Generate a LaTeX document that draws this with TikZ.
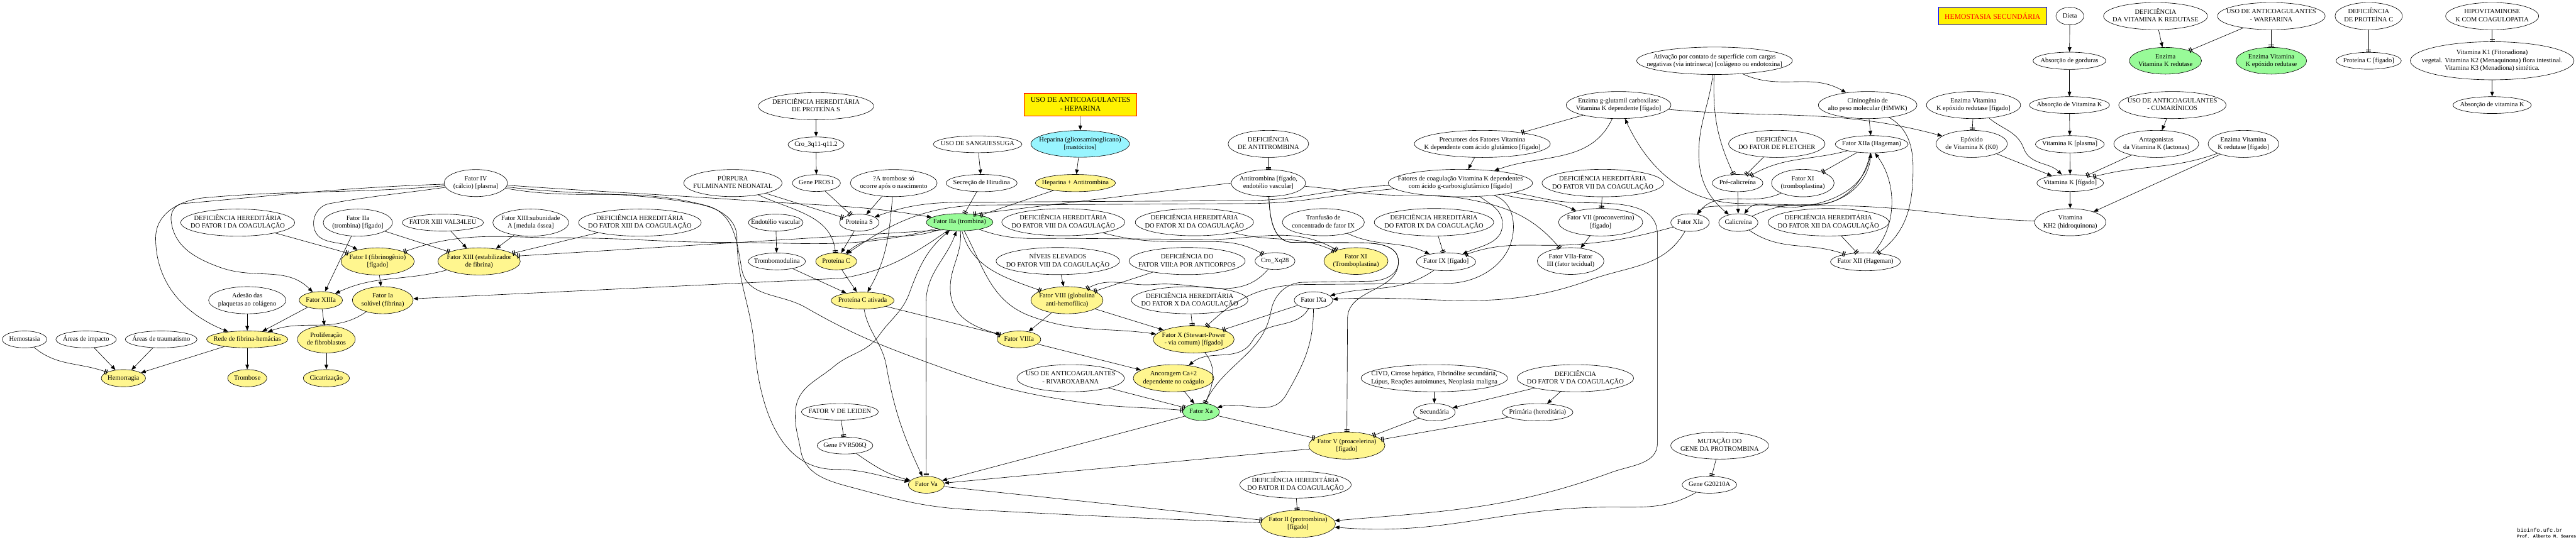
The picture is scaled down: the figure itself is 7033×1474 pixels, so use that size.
\documentclass[tikz,border=0pt]{standalone}
\usepackage{fontspec}
\setmainfont{Liberation Serif}
\newfontfamily\wmfont{Liberation Mono}
\usetikzlibrary{arrows.meta,shapes.geometric}
\definecolor{yfill}{HTML}{FFF68F}
\definecolor{gfill}{HTML}{98FB98}
\definecolor{cfill}{HTML}{98F5FF}
\newcommand{\nfont}{\fontsize{18}{21}\selectfont}
\newcommand{\bxfont}{\fontsize{20}{25}\selectfont}
\newcommand{\nlab}[1]{\makebox[0pt]{\begin{tabular}{@{}c@{}}#1\end{tabular}}}
\newcommand{\mknode}[7]{\node[#6, minimum width=#4pt, minimum height=#5pt] (#1) at (#2,-#3) {\nlab{#7}};}
\tikzset{
  nd/.style={ellipse, draw=black, line width=1.1pt, inner sep=0pt, font=\nfont},
  wh/.style={nd, fill=white},
  ye/.style={nd, fill=yfill},
  gr/.style={nd, fill=gfill},
  cy/.style={nd, fill=cfill},
  ed/.style={line width=1.1pt},
  arr/.style={ed, -{Triangle[length=13pt,width=10pt]}},
  inh/.style={ed, -{Bar[width=14pt,line width=2.2pt,sep=2.5pt]Bar[width=14pt,line width=2.2pt]}},
  bia/.style={ed, {Bar[width=14pt,line width=2.2pt,sep=2.5pt]Bar[width=14pt,line width=2.2pt]}-{Triangle[length=13pt,width=10pt]}},
}
\begin{document}
\begin{tikzpicture}[x=1pt,y=1pt]
\useasboundingbox (0,0) rectangle (7033,-1474);
% ---------------- left
\mknode{hemost}{67}{927}{122}{46}{wh}{Hemostasia}
\mknode{areasimp}{235}{927}{165}{46}{wh}{Áreas de impacto}
\mknode{areastrau}{440}{927}{196}{46}{wh}{Áreas de traumatismo}
\mknode{rede}{675}{927}{222}{46}{ye}{Rede de fibrina-hemácias}
\mknode{prolif}{891}{927}{158}{74}{ye}{Proliferação\\de fibroblastos}
\mknode{hemorr}{337}{1033}{121}{47}{ye}{Hemorragia}
\mknode{tromb}{675}{1033}{107}{47}{ye}{Trombose}
\mknode{cicat}{891}{1033}{126}{47}{ye}{Cicatrização}
\mknode{adesao}{675}{820}{211}{74}{wh}{Adesão das\\plaquetas ao colágeno}
\mknode{fxiiia}{876}{820}{118}{47}{ye}{Fator XIIIa}
\mknode{fia}{1045}{820}{166}{74}{ye}{Fator Ia\\solúvel (fibrina)}
\mknode{defi}{649}{608}{311}{74}{wh}{DEFICIÊNCIA HEREDITÁRIA\\DO FATOR I DA COAGULAÇÃO}
\mknode{fiifig}{977}{608}{189}{74}{wh}{Fator IIa\\(trombina) [fígado]}
\mknode{fi}{1031}{714}{200}{74}{ye}{Fator I (fibrinogênio)\\{}[fígado]}
\mknode{fxiiival}{1209}{608}{222}{46}{wh}{FATOR XIII VAL34LEU}
\mknode{fxiiisub}{1449}{608}{207}{74}{wh}{Fator XIII:subunidade\\A [medula óssea]}
\mknode{defxiii}{1747}{608}{335}{74}{wh}{DEFICIÊNCIA HEREDITÁRIA\\DO FATOR XIII DA COAGULAÇÃO}
\mknode{fxiii}{1308}{714}{225}{74}{ye}{Fator XIII (estabilizador\\de fibrina)}
\mknode{fiv}{1299}{500}{173}{74}{wh}{Fator IV\\(cálcio) [plasma]}
\mknode{purpura}{2001}{500}{268}{74}{wh}{PÚRPURA\\FULMINANTE NEONATAL}
\mknode{genepros}{2229}{500}{131}{46}{wh}{Gene PROS1}
\mknode{cro3q}{2228}{395}{153}{42}{wh}{Cro\_3q11-q11.2}
\mknode{defps}{2228}{290}{315}{74}{wh}{DEFICIÊNCIA HEREDITÁRIA\\DE PROTEÍNA S}
\mknode{atromb}{2440}{500}{237}{74}{wh}{?A trombose só\\ocorre após o nascimento}
\mknode{endot}{2118}{608}{149}{46}{wh}{Endotélio vascular}
\mknode{prots}{2346}{608}{108}{46}{wh}{Proteína S}
\mknode{trombomod}{2121}{714}{156}{46}{wh}{Trombomodulina}
\mknode{protc}{2283}{714}{112}{46}{ye}{Proteína C}
\mknode{protcat}{2355}{821}{172}{46}{ye}{Proteína C ativada}
\mknode{fvleiden}{2293}{1125}{210}{45}{wh}{FATOR V DE LEIDEN}
\mknode{genefvr}{2307}{1217}{152}{46}{wh}{Gene FVR506Q}
% ---------------- center
\node[rectangle, draw=red, fill=yellow, line width=1.1pt, minimum width=307pt, minimum height=61pt, inner sep=0pt, font=\bxfont] (hepbox) at (2950,-286) {\nlab{USO DE ANTICOAGULANTES\\- HEPARINA}};
\mknode{hepglico}{2949}{393}{269}{73}{cy}{Heparina (glicosaminoglicano)\\{}[mastócitos]}
\mknode{usosang}{2669}{394}{242}{46}{wh}{USO DE SANGUESSUGA}
\mknode{hirud}{2680}{500}{194}{47}{wh}{Secreção de Hirudina}
\mknode{hepanti}{2936}{500}{219}{47}{ye}{Heparina + Antitrombina}
\mknode{defat}{3463}{393}{220}{74}{wh}{DEFICIÊNCIA\\DE ANTITROMBINA}
\mknode{antitr}{3463}{500}{203}{73}{wh}{Antitrombina [fígado,\\endotélio vascular]}
\mknode{fiia}{2620}{607}{182}{47}{gr}{Fator IIa (trombina)}
\mknode{defviii}{2903}{607}{336}{74}{wh}{DEFICIÊNCIA HEREDITÁRIA\\DO FATOR VIII DA COAGULAÇÃO}
\mknode{defxi}{3261}{607}{323}{74}{wh}{DEFICIÊNCIA HEREDITÁRIA\\DO FATOR XI DA COAGULAÇÃO}
\mknode{tranf}{3613}{607}{224}{74}{wh}{Tranfusão de\\concentrado de fator IX}
\mknode{niveis}{2888}{713}{337}{74}{wh}{NÍVEIS ELEVADOS\\DO FATOR VIII DA COAGULAÇÃO}
\mknode{defviiia}{3241}{713}{317}{74}{wh}{DEFICIÊNCIA DO\\FATOR VIII:A POR ANTICORPOS}
\mknode{croxq}{3481}{713}{109}{46}{wh}{Cro\_Xq28}
\mknode{fviii}{2913}{820}{197}{74}{ye}{Fator VIII (globulina\\anti-hemofílica)}
\mknode{defx}{3248}{820}{318}{74}{wh}{DEFICIÊNCIA HEREDITÁRIA\\DO FATOR X DA COAGULAÇÃO}
\mknode{fixa}{3586}{820}{105}{46}{wh}{Fator IXa}
\mknode{fviiia}{2782}{927}{119}{46}{ye}{Fator VIIIa}
\mknode{fx}{3259}{927}{221}{74}{ye}{Fator X (Stewart-Power\\- via comum) [fígado]}
\mknode{usoriva}{2923}{1033}{293}{74}{wh}{USO DE ANTICOAGULANTES\\- RIVAROXABANA}
\mknode{ancor}{3204}{1033}{220}{74}{ye}{Ancoragem Ca+2\\dependente no coágulo}
\mknode{fxa}{3279}{1125}{100}{47}{gr}{Fator Xa}
\mknode{fv}{3677}{1217}{208}{74}{ye}{Fator V (proacelerina)\\{}[fígado]}
\mknode{fva}{2529}{1324}{98}{46}{ye}{Fator Va}
\mknode{defii}{3537}{1324}{304}{73}{wh}{DEFICIÊNCIA HEREDITÁRIA\\DO FATOR II DA COAGULAÇÃO}
\mknode{fii}{3544}{1431}{204}{74}{ye}{Fator II (protrombina)\\{}[fígado]}
% ---------------- right-center
\mknode{ativ}{4681}{166}{425}{75}{wh}{Ativação por contato de superfície com cargas\\negativas (via intrínseca) [colágeno ou endotoxina]}
\mknode{enzglut}{4419}{287}{286}{74}{wh}{Enzima g-glutamil carboxilase\\Vitamina K dependente [fígado]}
\mknode{precur}{4047}{393}{371}{74}{wh}{Precurores dos Fatores Vitamina\\K dependente com ácido glutâmico [fígado]}
\mknode{fatcoag}{3987}{500}{394}{75}{wh}{Fatores de coagulação Vitamina K dependentes\\com ácido g-carboxiglutâmico [fígado]}
\mknode{defvii}{4376}{500}{332}{75}{wh}{DEFICIÊNCIA HEREDITÁRIA\\DO FATOR VII DA COAGULAÇÃO}
\mknode{defflet}{4851}{393}{263}{74}{wh}{DEFICIÊNCIA\\DO FATOR DE FLETCHER}
\mknode{precal}{4744}{500}{138}{47}{wh}{Pré-calicreína}
\mknode{fxiw}{4922}{500}{171}{75}{wh}{Fator XI\\(tromboplastina)}
\mknode{defix}{3915}{607}{326}{75}{wh}{DEFICIÊNCIA HEREDITÁRIA\\DO FATOR IX DA COAGULAÇÃO}
\mknode{fvii}{4370}{607}{230}{75}{wh}{Fator VII (proconvertina)\\{}[fígado]}
\mknode{fxia}{4614}{608}{105}{48}{wh}{Fator XIa}
\mknode{calic}{4746}{608}{107}{48}{wh}{Calicreína}
\mknode{defxii}{4992}{607}{330}{75}{wh}{DEFICIÊNCIA HEREDITÁRIA\\DO FATOR XII DA COAGULAÇÃO}
\mknode{fxiy}{3702}{713}{175}{73}{ye}{Fator XI\\(Tromboplastina)}
\mknode{fix}{3948}{715}{162}{49}{wh}{Fator IX [fígado]}
\mknode{fviia}{4288}{713}{182}{73}{wh}{Fator VIIa-Fator\\III (fator tecidual)}
\mknode{civd}{3916}{1033}{400}{74}{wh}{CIVD, Cirrose hepática, Fibrinólise secundária,\\Lúpus, Reações autoimunes, Neoplasia maligna}
\mknode{defv}{4301}{1033}{318}{74}{wh}{DEFICIÊNCIA\\DO FATOR V DA COAGULAÇÃO}
\mknode{secund}{3916}{1126}{114}{47}{wh}{Secundária}
\mknode{primar}{4198}{1126}{193}{47}{wh}{Primária (hereditária)}
\mknode{mutgene}{4695}{1217}{267}{74}{wh}{MUTAÇÃO DO\\GENE DA PROTROMBINA}
\mknode{geneg}{4667}{1324}{149}{46}{wh}{Gene G20210A}
% ---------------- right
\node[rectangle, draw=blue, fill=yellow, line width=1.1pt, minimum width=296pt, minimum height=48pt, inner sep=0pt, font=\bxfont, text=red] (hemosec) at (5440,-44) {HEMOSTASIA SECUNDÁRIA};
\mknode{dieta}{5651}{44}{76}{48}{wh}{Dieta}
\mknode{defvkr}{5885}{44}{284}{74}{wh}{DEFICIÊNCIA\\DA VITAMINA K REDUTASE}
\mknode{usowarf}{6201}{44}{294}{74}{wh}{USO DE ANTICOAGULANTES\\- WARFARINA}
\mknode{defpc}{6467}{44}{184}{74}{wh}{DEFICIÊNCIA\\DE PROTEÍNA C}
\mknode{hipo}{6804}{44}{254}{74}{wh}{HIPOVITAMINOSE\\K COM COAGULOPATIA}
\mknode{enzvkrg}{5912}{166}{197}{73}{gr}{Enzima\\Vitamina K redutase}
\mknode{enzvkeg}{6201}{166}{193}{73}{gr}{Enzima Vitamina\\K epóxido redutase}
\mknode{protcfig}{6467}{166}{178}{46}{wh}{Proteína C [fígado]}
\mknode{vitki}{6804}{166}{447}{104}{wh}{Vitamina K1 (Fitonadiona)\\vegetal. Vitamina K2 (Menaquinona) flora intestinal.\\Vitamina K3 (Menadiona) sintética.}
\mknode{absvitkl}{6804}{287}{214}{46}{wh}{Absorção de vitamina K}
\mknode{absgord}{5650}{166}{199}{47}{wh}{Absorção de gorduras}
\mknode{cinin}{5099}{287}{269}{74}{wh}{Cininogênio de\\alto peso molecular (HMWK)}
\mknode{enzvkef}{5388}{287}{257}{74}{wh}{Enzima Vitamina\\K epóxido redutase [fígado]}
\mknode{absvitk}{5650}{287}{219}{46}{wh}{Absorção de Vitamina K}
\mknode{usocum}{5931}{287}{293}{74}{wh}{USO DE ANTICOAGULANTES\\- CUMARÍNICOS}
\mknode{fxiia}{5110}{394}{199}{47}{wh}{Fator XIIa (Hageman)}
\mknode{epox}{5383}{393}{195}{74}{wh}{Epóxido\\de Vitamina K (K0)}
\mknode{vitkpl}{5651}{394}{188}{47}{wh}{Vitamina K [plasma]}
\mknode{antag}{5887}{393}{232}{74}{wh}{Antagonistas\\da Vitamina K (lactonas)}
\mknode{enzvkrf}{6125}{393}{193}{74}{wh}{Enzima Vitamina\\K redutase [fígado]}
\mknode{vitkf}{5652}{500}{182}{46}{wh}{Vitamina K [fígado]}
\mknode{vitkh}{5652}{607}{195}{74}{wh}{Vitamina\\KH2 (hidroquinona)}
\mknode{fxii}{5093}{715}{191}{49}{wh}{Fator XII (Hageman)}
% watermark
\node[anchor=base west, inner sep=0pt, font=\wmfont\fontsize{14.8}{16}\selectfont] (wma) at (6872,-1453) {bioinfo.ufc.br};
\node[anchor=base west, inner sep=0pt, font=\wmfont\bfseries\fontsize{11.5}{13}\selectfont] (wmb) at (6872,-1469) {Prof. Alberto M. Soares};

% ================= edges: left
\draw[inh] (defi) -- (fi);
\draw[arr] (fiifig) -- (fxiiia);
\draw[inh] (fiifig) -- (fxiii);
\draw[arr] (fiv) to[out=185,in=5] (560,-540) to[out=185,in=90] (425,-650) to[out=-90,in=158] (rede);
\draw[arr] (fiv) to[out=182,in=5] (500,-556) to[out=185,in=95] (467,-600) to[out=-85,in=160] (600,-730) to[out=-20,in=135] (fxiiia);
\draw[arr] (fiv) to[out=188,in=10] (900,-556) to[out=190,in=100] (857,-620) to[out=-80,in=150] (fi);
\draw[arr] (fi) -- (fia);
\draw[arr] (fiia) to[out=215,in=10] (2300,-760) -- (fia);
\draw[inh] (fiia) to[out=195,in=0] (1980,-662) to[out=180,in=0] (1550,-650) to[out=180,in=20] (fi);
\draw[inh] (fiia.205) -- (fxiii.8);
\draw[arr] (fxiii) to[out=195,in=25] (fxiiia);
\draw[arr] (fxiiia) -- (rede);
\draw[arr] (fxiiia) -- (prolif);
\draw[arr] (fia) to[out=215,in=20] (rede);
\draw[arr] (adesao) -- (rede);
\draw[arr] (rede) -- (hemorr);
\draw[arr] (rede) -- (tromb);
\draw[arr] (prolif) -- (cicat);
\draw[inh] (hemost) to[out=-40,in=160] (hemorr);
\draw[arr] (areasimp) -- (hemorr);
\draw[arr] (areastrau) -- (hemorr);
\draw[arr] (fxiiival) -- (fxiii);
\draw[arr] (fxiiisub) -- (fxiii);
\draw[inh] (defxiii) -- (fxiii);
% center-left
\draw[arr] (defps) -- (cro3q);
\draw[arr] (cro3q) -- (genepros);
\draw[inh] (genepros) -- (prots);
\draw[inh] (purpura) -- (prots);
\draw[inh] (purpura) to[out=-25,in=95] (protc);
\draw[arr] (atromb) -- (prots);
\draw[arr] (prots) -- (protc);
\draw[arr] (endot) -- (trombomod);
\draw[arr] (trombomod) -- (protcat);
\draw[arr] (protc) -- (protcat);
\draw[arr] (atromb) to[out=-95,in=60] (protcat);
\draw[arr] (fiia) to[out=200,in=40] (protc);
\draw[arr] (fiv) to[out=-4,in=176] (2062,-549) to[out=-4,in=170] (fiia);
\draw[arr] (fiv) to[out=-7,in=170] (1900,-556) to[out=-10,in=90] (2012,-650) to[out=-90,in=95] (2060,-950) to[out=-85,in=180] (2280,-1282) to[out=0,in=170] (fva);
\draw[inh] (fiv) to[out=-10,in=165] (1930,-562) to[out=-15,in=100] (2025,-735) to[out=-80,in=150] (2200,-840) to[out=-30,in=160] (2560,-1000) to[out=-20,in=172] (2960,-1100) to[out=-8,in=175] (fxa);
\draw[inh] (protcat) -- (fviiia);
\draw[arr] (protcat) to[out=-80,in=100] (2420,-1000) to[out=-80,in=115] (fva);
\draw[bia] (fva) -- (2528,-830) to[out=90,in=-110] (fiia);
\draw[arr] (fii) to[out=178,in=-3] (2650,-1392) to[out=177,in=-15] (2336,-1334) to[out=165,in=-80] (2186,-1230) to[out=100,in=-95] (2172,-1120) to[out=85,in=-140] (2278,-1000) to[out=40,in=-125] (2400,-916) to[out=55,in=-110] (2483,-800) to[out=70,in=-140] (fiia);
\draw[arr] (genefvr) to[out=-35,in=165] (fva);
\draw[inh] (fvleiden) -- (genefvr);
% center
\draw[arr] (hepbox) -- (hepglico);
\draw[arr] (hepglico) -- (hepanti);
\draw[arr] (usosang) -- (hirud);
\draw[inh] (hirud) -- (fiia);
\draw[inh] (hepanti) -- (fiia);
\draw[inh] (defat) -- (antitr);
\draw[inh] (antitr.180) -- (fiia.30);
\draw[arr] (fatcoag) to[out=182,in=0] (3400,-548) -- (2700,-552) to[out=180,in=20] (prots);
\draw[arr] (fatcoag) to[out=185,in=0] (3400,-556) -- (2700,-560) to[out=180,in=35] (protc);
\draw[inh] (fiia) to[out=-75,in=160] (fviii);
\draw[arr] (fiia) to[out=-85,in=95] (2595,-800) to[out=-85,in=165] (fviiia);
\draw[arr] (fiia) to[out=-62,in=160] (2815,-864) to[out=-20,in=172] (fx);
\draw[arr] (niveis) -- (fviii);
\draw[inh] (defviiia) -- (fviii);
\draw[inh] (croxq) to[out=-130,in=5] (3150,-777) to[out=185,in=30] (fviii);
\draw[inh] (defviii) to[out=-15,in=180] (3250,-660) to[out=0,in=150] (croxq);
\draw[inh] (fiia) to[out=-20,in=180] (2900,-651) -- (3300,-654) to[out=0,in=150] (fxiy);
\draw[inh] (defxi) to[out=-15,in=155] (fxiy);
\draw[arr] (fviii) -- (fviiia);
\draw[arr] (fviii) -- (fx);
\draw[arr] (fviiia) -- (ancor);
\draw[inh] (defx) -- (fx);
\draw[inh] (fixa) -- (fx);
\draw[arr] (fixa) to[out=-120,in=60] (3420,-930) to[out=-120,in=40] (ancor);
\draw[arr] (fixa) to[out=-90,in=60] (3511,-1079) to[out=-120,in=15] (fxa);
\draw[inh] (fx) to[out=-50,in=65] (fxa);
\draw[inh] (antitr) to[out=-88,in=180] (3530,-662) -- (3700,-663) to[out=0,in=90] (3818,-715) to[out=-90,in=0] (3740,-768) -- (3560,-771) to[out=180,in=80] (3470,-850) to[out=-100,in=65] (fxa);
\draw[inh] (antitr) to[out=-88,in=180] (3530,-662) -- (3700,-663) to[out=0,in=90] (3818,-715) to[out=-90,in=90] (3679,-870) -- (fv);
\draw[inh] (fatcoag) to[out=-20,in=90] (4132,-620) to[out=-90,in=0] (3950,-774) -- (3570,-777) to[out=180,in=45] (fx);
\draw[arr] (fatcoag) to[out=-35,in=90] (4102,-612) to[out=-90,in=25] (fix);
\draw[inh] (fxia) to[out=195,in=5] (4313,-667) to[out=185,in=20] (fix);
\draw[arr] (fxia) to[out=-120,in=20] (4340,-765) to[out=200,in=3] (fixa);
\draw[arr] (fix) to[out=215,in=15] (fixa);
\draw[arr] (tranf) to[out=-25,in=155] (fix);
\draw[inh] (defix) -- (fix);
\draw[arr] (fatcoag) to[out=-15,in=155] (fvii);
\draw[inh] (defvii) -- (fvii);
\draw[arr] (fvii) -- (fviia);
\draw[inh] (antitr) to[out=-5,in=178] (3800,-533) to[out=-2,in=170] (4000,-543) to[out=-10,in=130] (fviia);
\draw[arr] (fatcoag) to[out=-10,in=178] (4300,-553) to[out=-2,in=90] (4525,-640) -- (4525,-1210) to[out=-90,in=20] (4400,-1290) to[out=200,in=5] (fii);
\draw[arr] (geneg) to[out=-150,in=0] (4400,-1385) to[out=180,in=-5] (fii);
\draw[inh] (mutgene) -- (geneg);
\draw[inh] (defii) -- (fii);
\draw[arr] (civd) -- (secund);
\draw[arr] (defv) -- (secund);
\draw[arr] (defv) -- (primar);
\draw[inh] (secund) -- (fv);
\draw[inh] (primar) -- (fv);
\draw[arr] (fxa) -- (fva);
\draw[inh] (fxa) -- (fv);
\draw[arr] (fv) -- (fva);
\draw[inh] (fva) -- (fii);
\draw[arr] (ancor) -- (fxa);
\draw[inh] (usoriva) -- (fxa);
% right
\draw[inh] (ativ) to[out=-92,in=115] (precal);
\draw[arr] (ativ) to[out=-97,in=90] (4638,-420) to[out=-90,in=140] (calic);
\draw[arr] (ativ) to[out=-25,in=150] (cinin);
\draw[inh] (defflet) -- (precal);
\draw[inh] (fxiia) to[out=195,in=30] (precal);
\draw[arr] (precal) -- (calic);
\draw[inh] (calic) to[out=-35,in=160] (fxii);
\draw[arr] (fxiw) to[out=205,in=50] (fxia);
\draw[arr] (fxiia) to[out=-100,in=0] (4950,-560) -- (4700,-563) to[out=180,in=50] (fxia);
\draw[arr] (fxiia) to[out=-97,in=5] (4900,-566) to[out=185,in=55] (calic);
\draw[arr] (calic) to[out=25,in=180] (4950,-559) to[out=0,in=-95] (fxiia);
\draw[arr] (fxii.50) .. controls (5180,-620) and (5180,-500) .. (fxiia.-70);
\draw[inh] (defxii) -- (fxii);
\draw[arr] (cinin) -- (fxiia);
\draw[inh] (cinin) to[out=-30,in=90] (5223,-460) to[out=-90,in=35] (fxii);
\draw[inh] (fxiia) -- (fxiw);
\draw[arr] (enzglut) to[out=-5,in=165] (epox);
\draw[arr] (vitkh) to[out=178,in=0] (5000,-562) -- (4760,-556) to[out=180,in=-65] (enzglut);
\draw[inh] (enzvkef) -- (epox);
\draw[arr] (enzvkef) to[out=-40,in=110] (5525,-405) to[out=-70,in=135] (vitkf);
\draw[arr] (epox) -- (vitkf);
\draw[arr] (dieta) -- (absgord);
\draw[arr] (absgord) -- (absvitk);
\draw[arr] (absvitk) -- (vitkpl);
\draw[arr] (vitkpl) -- (vitkf);
\draw[arr] (vitkf) -- (vitkh);
\draw[arr] (usocum) -- (antag);
\draw[inh] (antag) -- (vitkf);
\draw[inh] (enzvkrf) to[out=200,in=15] (vitkf);
\draw[arr] (enzvkrf) -- (vitkh);
\draw[arr] (defvkr) -- (enzvkrg);
\draw[inh] (usowarf) -- (enzvkrg);
\draw[inh] (usowarf) -- (enzvkeg);
\draw[inh] (defpc) -- (protcfig);
\draw[inh] (hipo) -- (vitki);
\draw[arr] (vitki) -- (absvitkl);
\draw[inh] (enzglut) -- (precur);
\draw[arr] (enzglut) to[out=-115,in=20] (fatcoag);
\draw[arr] (precur) -- (fatcoag);
\end{tikzpicture}
\end{document}
